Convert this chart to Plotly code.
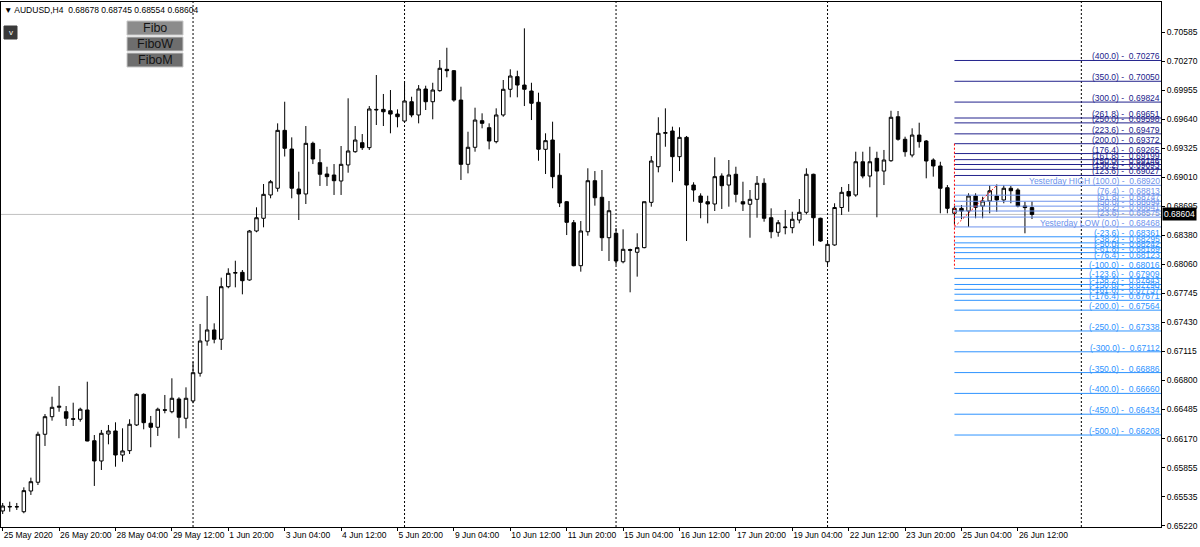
import plotly.graph_objects as go

# ---------------- data (AUDUSD H4 candles) ----------------
opens = [0.65383, 0.65426, 0.65430, 0.65375, 0.65600, 0.65695, 0.66216, 0.66407, 0.66509, 0.66461,
         0.66385, 0.66379, 0.66480, 0.66146, 0.65926, 0.66219, 0.66252, 0.65991, 0.66038, 0.66317,
         0.66650, 0.66336, 0.66292, 0.66482, 0.66461, 0.66599, 0.66390, 0.66578, 0.66879, 0.67229,
         0.67349, 0.67248, 0.67819, 0.67966, 0.67975, 0.67892, 0.68424, 0.68562, 0.68815, 0.68888,
         0.69517, 0.69314, 0.68880, 0.68826, 0.69376, 0.69166, 0.69043, 0.69032, 0.68967, 0.69141,
         0.69285, 0.69383, 0.69329, 0.69745, 0.69745, 0.69730, 0.69694, 0.69618, 0.69828, 0.69684,
         0.69966, 0.69828, 0.69948, 0.70180, 0.70165, 0.69846, 0.69148, 0.69333, 0.69622, 0.69546,
         0.69394, 0.69684, 0.69963, 0.70100, 0.70009, 0.69944, 0.69822, 0.69311, 0.69412, 0.69029,
         0.68742, 0.68514, 0.68047, 0.68416, 0.68970, 0.68790, 0.68351, 0.68399, 0.68090, 0.68222,
         0.68193, 0.68243, 0.68735, 0.69122, 0.69485, 0.69510, 0.69231, 0.69441, 0.68923, 0.68804,
         0.68742, 0.68717, 0.69021, 0.68923, 0.69040, 0.68742, 0.68714, 0.68768, 0.68942, 0.68568,
         0.68410, 0.68460, 0.68460, 0.68543, 0.68627, 0.69040, 0.68562, 0.68090, 0.68272, 0.68679,
         0.68853, 0.68815, 0.69176, 0.69021, 0.69213, 0.69075, 0.69187, 0.69665, 0.69420, 0.69249,
         0.69466, 0.69401, 0.69195, 0.69130, 0.68894, 0.68616, 0.68670, 0.68641, 0.68804, 0.68695,
         0.68750, 0.68804, 0.68761, 0.68888, 0.68869, 0.68695, 0.68678]
highs = [0.65470, 0.65484, 0.65470, 0.65640, 0.65745, 0.66244, 0.66436, 0.66624, 0.66741, 0.66523,
         0.66559, 0.66505, 0.66787, 0.66208, 0.66263, 0.66317, 0.66346, 0.66281, 0.66379, 0.66661,
         0.66661, 0.66415, 0.66505, 0.66643, 0.66824, 0.66618, 0.66726, 0.67004, 0.67414, 0.67718,
         0.67421, 0.67917, 0.68019, 0.68101, 0.68000, 0.68435, 0.68681, 0.68934, 0.68978, 0.69593,
         0.69828, 0.69441, 0.69068, 0.69564, 0.69394, 0.69314, 0.69122, 0.69151, 0.69347, 0.69865,
         0.69564, 0.69477, 0.69781, 0.70118, 0.69912, 0.69955, 0.69745, 0.70053, 0.69882, 0.70009,
         0.70002, 0.70034, 0.70281, 0.70414, 0.70172, 0.69991, 0.69502, 0.69763, 0.69702, 0.69593,
         0.69756, 0.70064, 0.70180, 0.70165, 0.70625, 0.70034, 0.69926, 0.69485, 0.69611, 0.69268,
         0.68750, 0.68543, 0.68532, 0.69105, 0.69075, 0.69086, 0.68750, 0.68456, 0.68442, 0.68232,
         0.68399, 0.68742, 0.69238, 0.69659, 0.69756, 0.69557, 0.69550, 0.69456, 0.68953, 0.68833,
         0.68807, 0.69224, 0.69050, 0.69195, 0.69122, 0.68959, 0.68869, 0.69021, 0.68996, 0.68670,
         0.68543, 0.68652, 0.68633, 0.68771, 0.69105, 0.69046, 0.68568, 0.68326, 0.68725, 0.68902,
         0.68934, 0.69285, 0.69285, 0.69339, 0.69285, 0.69304, 0.69730, 0.69727, 0.69448, 0.69539,
         0.69600, 0.69412, 0.69213, 0.69176, 0.68923, 0.68695, 0.68706, 0.68833, 0.68833, 0.68796,
         0.68920, 0.68930, 0.68923, 0.68913, 0.68888, 0.68742, 0.68745]
lows = [0.65350, 0.65375, 0.65394, 0.65358, 0.65557, 0.65665, 0.66089, 0.66364, 0.66461, 0.66306,
        0.66306, 0.66353, 0.66140, 0.65655, 0.65828, 0.66107, 0.65864, 0.65918, 0.66002, 0.66306,
        0.66270, 0.66075, 0.66198, 0.66444, 0.66444, 0.66173, 0.66281, 0.66553, 0.66842, 0.67178,
        0.67204, 0.67132, 0.67802, 0.67812, 0.67736, 0.67884, 0.68410, 0.68464, 0.68779, 0.68851,
        0.69233, 0.68779, 0.68543, 0.68717, 0.69151, 0.68913, 0.68913, 0.68815, 0.68815, 0.69057,
        0.69274, 0.69304, 0.69304, 0.69575, 0.69564, 0.69485, 0.69550, 0.69597, 0.69659, 0.69593,
        0.69738, 0.69637, 0.69937, 0.70093, 0.69828, 0.68978, 0.69050, 0.69285, 0.69539, 0.69311,
        0.69376, 0.69665, 0.69876, 0.69876, 0.69781, 0.69629, 0.69187, 0.69043, 0.68888, 0.68684,
        0.68380, 0.68040, 0.67982, 0.68373, 0.68699, 0.68207, 0.68098, 0.68055, 0.68073, 0.67758,
        0.67928, 0.68236, 0.68688, 0.69061, 0.69339, 0.68953, 0.69075, 0.68315, 0.68742, 0.68562,
        0.68507, 0.68641, 0.68663, 0.68688, 0.68735, 0.68641, 0.68351, 0.68568, 0.68525, 0.68345,
        0.68362, 0.68388, 0.68399, 0.68507, 0.68605, 0.68264, 0.68307, 0.68055, 0.68264, 0.68598,
        0.68633, 0.68796, 0.68996, 0.68898, 0.68573, 0.68923, 0.69176, 0.69405, 0.69231, 0.69224,
        0.69329, 0.68996, 0.69014, 0.68616, 0.68616, 0.68500, 0.68554, 0.68468, 0.68562, 0.68562,
        0.68616, 0.68633, 0.68725, 0.68725, 0.68681, 0.68399, 0.68554]
closes = [0.65437, 0.65432, 0.65428, 0.65604, 0.65701, 0.66216, 0.66407, 0.66509, 0.66520, 0.66390,
          0.66380, 0.66488, 0.66143, 0.65926, 0.66227, 0.66252, 0.65991, 0.66035, 0.66325, 0.66650,
          0.66342, 0.66292, 0.66488, 0.66478, 0.66607, 0.66401, 0.66607, 0.66885, 0.67229, 0.67349,
          0.67248, 0.67819, 0.67964, 0.67972, 0.67884, 0.68424, 0.68568, 0.68822, 0.68959, 0.69517,
          0.69322, 0.68888, 0.68826, 0.69376, 0.69206, 0.69040, 0.69014, 0.68970, 0.69148, 0.69293,
          0.69412, 0.69329, 0.69749, 0.69740, 0.69719, 0.69694, 0.69665, 0.69836, 0.69684, 0.69966,
          0.69828, 0.69955, 0.70191, 0.70165, 0.69846, 0.69148, 0.69333, 0.69629, 0.69593, 0.69401,
          0.69684, 0.69963, 0.70107, 0.70009, 0.69963, 0.69811, 0.69311, 0.69405, 0.69014, 0.68728,
          0.68518, 0.68047, 0.68424, 0.68970, 0.68785, 0.68351, 0.68644, 0.68098, 0.68225, 0.68215,
          0.68243, 0.68742, 0.69184, 0.69485, 0.69492, 0.69231, 0.69441, 0.68923, 0.68869, 0.68735,
          0.68717, 0.69014, 0.68916, 0.69032, 0.68822, 0.68717, 0.68768, 0.68942, 0.68562, 0.68416,
          0.68514, 0.68466, 0.68551, 0.68627, 0.69040, 0.68568, 0.68315, 0.68279, 0.68679, 0.68844,
          0.68804, 0.69176, 0.69021, 0.69176, 0.69075, 0.69195, 0.69659, 0.69420, 0.69285, 0.69466,
          0.69394, 0.69184, 0.69130, 0.68888, 0.68670, 0.68670, 0.68641, 0.68804, 0.68681, 0.68750,
          0.68861, 0.68761, 0.68888, 0.68861, 0.68695, 0.68678, 0.68604]
bar_index = list(range(len(opens)))

x_tick_bars = [0, 8, 16, 24, 32, 40, 48, 56, 64, 72, 80, 88, 96, 104, 112, 120, 128, 136, 144]
x_tick_labels = ["25 May 2020", "26 May 20:00", "28 May 04:00", "29 May 12:00", "1 Jun 20:00",
                 "3 Jun 04:00", "4 Jun 12:00", "5 Jun 20:00", "9 Jun 04:00", "10 Jun 12:00",
                 "11 Jun 20:00", "15 Jun 04:00", "16 Jun 12:00", "17 Jun 20:00", "19 Jun 04:00",
                 "22 Jun 12:00", "23 Jun 20:00", "25 Jun 04:00", "26 Jun 12:00"]
price_ticks = [0.70585, 0.70270, 0.69955, 0.69640, 0.69325, 0.69010, 0.68695, 0.68380, 0.68060,
               0.67745, 0.67430, 0.67115, 0.66800, 0.66485, 0.66170, 0.65855, 0.65535, 0.65220]
separator_bars = [27, 57, 87, 117, 153]

bid_price = 0.68604
symbol_title = "AUDUSD,H4"
last_ohlc = ["0.68678", "0.68745", "0.68554", "0.68604"]

fib_levels = [400.0, 350.0, 300.0, 261.8, 250.0, 223.6, 200.0, 176.4, 161.8, 150.0, 138.2, 123.6,
              100.0, 76.4, 61.8, 50.0, 38.2, 23.6, 0.0,
              -23.6, -38.2, -50.0, -61.8, -76.4, -100.0, -123.6, -138.2, -150.0, -161.8, -176.4,
              -200.0, -250.0, -300.0, -350.0, -400.0, -450.0, -500.0]
fib_prices = [0.70276, 0.70050, 0.69824, 0.69651, 0.69598, 0.69479, 0.69372, 0.69265, 0.69199,
              0.69146, 0.69093, 0.69027, 0.68920, 0.68813, 0.68747, 0.68694, 0.68641, 0.68575,
              0.68468, 0.68361, 0.68295, 0.68242, 0.68189, 0.68123, 0.68016, 0.67909, 0.67843,
              0.67790, 0.67737, 0.67671, 0.67564, 0.67338, 0.67112, 0.66886, 0.66660, 0.66434,
              0.66208]
fib_start_bar = 135
fib_anchor_bars = [135, 141]
fib_anchor_prices = [0.68468, 0.68920]
fib_vline_prices = [0.69372, 0.68016]

# ---------------- layout constants ----------------
W, H = 1200, 547
ML, MR, MT, MB = 1, 39, 2, 20
PW, PH = W - ML - MR, H - MT - MB
X_RANGE = [-0.24, 164.3]
Y_RANGE = [0.65209, 0.70911]
FONT = "Liberation Sans, Arial, sans-serif"

def xp(px):
    return (px - ML) / PW

def yp(py):
    return (H - MB - py) / PH

fig = go.Figure()
fig.add_trace(go.Candlestick(
    x=bar_index, open=opens, high=highs, low=lows, close=closes,
    increasing=dict(fillcolor="white", line=dict(color="black", width=1)),
    decreasing=dict(fillcolor="black", line=dict(color="black", width=1)),
    whiskerwidth=0, hoverinfo="skip", showlegend=False,
))

shapes = []
# bid line
shapes.append(dict(type="line", xref="paper", x0=0, x1=1, yref="y", y0=bid_price, y1=bid_price,
                   line=dict(color="#C0C0C0", width=1), layer="below"))
# period separators
for b in separator_bars:
    shapes.append(dict(type="line", xref="x", x0=b, x1=b, yref="paper", y0=0, y1=1,
                       line=dict(color="black", width=1, dash="2px,2px"), layer="below"))

def fib_color(lvl):
    if lvl > 100:
        return "#22228C"
    if lvl >= 0:
        return "#6E93EC"
    return "#2E93FF"

annotations = []
for lvl, pr in zip(fib_levels, fib_prices):
    c = fib_color(lvl)
    shapes.append(dict(type="line", xref="x", x0=fib_start_bar, x1=X_RANGE[1], yref="y", y0=pr, y1=pr,
                       line=dict(color=c, width=1)))
    if lvl == 100:
        txt = "Yesterday HIGH (%.1f) -\u00a0\u00a0%.5f" % (lvl, pr)
    elif lvl == 0:
        txt = "Yesterday LOW (%.1f) -\u00a0\u00a0%.5f" % (lvl, pr)
    else:
        txt = "(%.1f) -\u00a0\u00a0%.5f" % (lvl, pr)
    annotations.append(dict(xref="paper", x=1, xanchor="right", yref="y", y=pr, yanchor="bottom",
                            text=txt, showarrow=False, font=dict(family=FONT, size=8.5, color=c),
                            borderpad=0, yshift=-2))

# fibo anchor (red dotted) lines
shapes.append(dict(type="line", xref="x", x0=fib_start_bar, x1=fib_start_bar, yref="y",
                   y0=fib_vline_prices[0], y1=fib_vline_prices[1],
                   line=dict(color="red", width=1, dash="2px,2px")))
shapes.append(dict(type="line", xref="x", x0=fib_anchor_bars[0], x1=fib_anchor_bars[1], yref="y",
                   y0=fib_anchor_prices[0], y1=fib_anchor_prices[1],
                   line=dict(color="red", width=1, dash="2px,2px")))

# buttons
buttons = [("Fibo", 21, 35, "#8C8C8C"), ("FiboW", 37, 51, "#6E6E6E"), ("FiboM", 53, 67, "#6E6E6E")]
for label, top, bot, col in buttons:
    shapes.append(dict(type="rect", xref="paper", yref="paper", x0=xp(127), x1=xp(183),
                       y0=yp(bot), y1=yp(top), fillcolor=col, line=dict(color="#C8C8C8", width=1)))
    annotations.append(dict(xref="paper", yref="paper", x=xp(155), y=yp((top + bot) / 2),
                            xanchor="center", yanchor="middle", text=label, showarrow=False,
                            font=dict(family=FONT, size=12.5, color="#151515")))
shapes.append(dict(type="rect", xref="paper", yref="paper", x0=xp(4), x1=xp(17), y0=yp(39), y1=yp(26),
                   fillcolor="#3A3A3A", line=dict(color="#3A3A3A", width=1)))
annotations.append(dict(xref="paper", yref="paper", x=xp(10.5), y=yp(32.5), xanchor="center",
                        yanchor="middle", text="v", showarrow=False,
                        font=dict(family=FONT, size=8, color="white")))

# title
annotations.append(dict(xref="paper", yref="paper", x=xp(3), y=yp(10), xanchor="left", yanchor="middle",
                        text="\u25bc " + symbol_title + "\u00a0\u00a0" + " ".join(last_ohlc),
                        showarrow=False, font=dict(family=FONT, size=8.5, color="black"), borderpad=0))
# price tag
annotations.append(dict(xref="paper", x=1, xanchor="left", xshift=1, yref="y", y=bid_price,
                        yanchor="middle", text=last_ohlc[3], showarrow=False, bgcolor="black",
                        font=dict(family=FONT, size=8.5, color="white"), borderpad=1))

fig.update_layout(
    width=W, height=H, margin=dict(l=ML, r=MR, t=MT, b=MB, pad=0),
    paper_bgcolor="white", plot_bgcolor="white", showlegend=False,
    shapes=shapes, annotations=annotations,
    font=dict(family=FONT, size=8.5, color="black"),
    xaxis=dict(range=X_RANGE, rangeslider=dict(visible=False), showgrid=False, zeroline=False,
               tickmode="array", tickvals=x_tick_bars, ticktext=x_tick_labels,
               ticks="outside", ticklen=3, tickcolor="black", tickwidth=1,
               ticklabelposition="outside right", tickangle=0,
               tickfont=dict(family=FONT, size=8.5, color="black"),
               showline=True, mirror=True, linecolor="black", linewidth=1),
    yaxis=dict(range=Y_RANGE, side="right", showgrid=False, zeroline=False,
               tickmode="array", tickvals=price_ticks, ticktext=["%.5f" % v for v in price_ticks],
               ticks="outside", ticklen=3, tickcolor="black", tickwidth=1,
               tickfont=dict(family=FONT, size=8.5, color="black"),
               showline=True, mirror=True, linecolor="black", linewidth=1),
)

fig.write_html("out.html", config={"displayModeBar": False},
               post_script="document.body.style.margin='0';document.body.style.padding='0';"
                           "document.documentElement.style.overflow='hidden';")
